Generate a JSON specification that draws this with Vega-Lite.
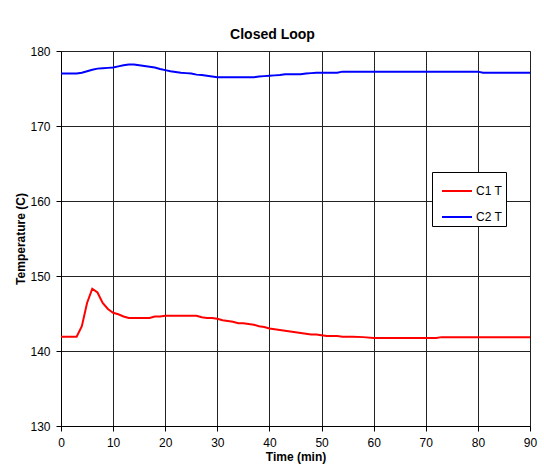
{
  "$schema": "https://vega.github.io/schema/vega-lite/v6.json",
  "width": 469,
  "height": 375,
  "autosize": {"type": "none"},
  "padding": {"left": 61, "top": 51, "right": 14, "bottom": 39},
  "background": "white",
  "config": {
    "font": "Liberation Sans",
    "view": {"stroke": "#808080", "strokeWidth": 1},
    "axis": {"labelFont": "Liberation Sans", "titleFont": "Liberation Sans", "labelColor": "black", "titleColor": "black", "domainColor": "black", "tickColor": "black", "gridColor": "#222", "gridOpacity": 1, "gridWidth": 1, "tickSize": 5, "labelFontSize": 12, "titleFontSize": 12, "titleFontWeight": "bold"}
  },
  "title": {"text": "Closed Loop", "fontSize": 14, "fontWeight": "bold", "font": "Liberation Sans", "color": "black", "anchor": "middle", "dx": -23, "dy": 20, "frame": "group", "baseline": "alphabetic", "offset": 12},
  "datasets": {
    "temps": [
      {"t": 0, "C1 T": 141.9, "C2 T": 177.0},
      {"t": 1, "C1 T": 141.9, "C2 T": 177.0},
      {"t": 2, "C1 T": 141.9, "C2 T": 177.0},
      {"t": 3, "C1 T": 141.9, "C2 T": 177.0},
      {"t": 4, "C1 T": 143.3, "C2 T": 177.1},
      {"t": 5, "C1 T": 146.4, "C2 T": 177.3},
      {"t": 6, "C1 T": 148.3, "C2 T": 177.5},
      {"t": 7, "C1 T": 147.8, "C2 T": 177.65},
      {"t": 8, "C1 T": 146.4, "C2 T": 177.7},
      {"t": 9, "C1 T": 145.6, "C2 T": 177.75},
      {"t": 10, "C1 T": 145.1, "C2 T": 177.8},
      {"t": 11, "C1 T": 144.9, "C2 T": 177.95},
      {"t": 12, "C1 T": 144.6, "C2 T": 178.1},
      {"t": 13, "C1 T": 144.4, "C2 T": 178.2},
      {"t": 14, "C1 T": 144.4, "C2 T": 178.2},
      {"t": 15, "C1 T": 144.4, "C2 T": 178.1},
      {"t": 16, "C1 T": 144.4, "C2 T": 178.0},
      {"t": 17, "C1 T": 144.4, "C2 T": 177.9},
      {"t": 18, "C1 T": 144.6, "C2 T": 177.8},
      {"t": 19, "C1 T": 144.6, "C2 T": 177.6},
      {"t": 20, "C1 T": 144.7, "C2 T": 177.45},
      {"t": 21, "C1 T": 144.7, "C2 T": 177.3},
      {"t": 22, "C1 T": 144.7, "C2 T": 177.2},
      {"t": 23, "C1 T": 144.7, "C2 T": 177.1},
      {"t": 24, "C1 T": 144.7, "C2 T": 177.05},
      {"t": 25, "C1 T": 144.7, "C2 T": 177.0},
      {"t": 26, "C1 T": 144.7, "C2 T": 176.85},
      {"t": 27, "C1 T": 144.5, "C2 T": 176.8},
      {"t": 28, "C1 T": 144.4, "C2 T": 176.7},
      {"t": 29, "C1 T": 144.4, "C2 T": 176.6},
      {"t": 30, "C1 T": 144.3, "C2 T": 176.5},
      {"t": 31, "C1 T": 144.1, "C2 T": 176.5},
      {"t": 32, "C1 T": 144.0, "C2 T": 176.5},
      {"t": 33, "C1 T": 143.9, "C2 T": 176.5},
      {"t": 34, "C1 T": 143.7, "C2 T": 176.5},
      {"t": 35, "C1 T": 143.7, "C2 T": 176.5},
      {"t": 36, "C1 T": 143.6, "C2 T": 176.5},
      {"t": 37, "C1 T": 143.5, "C2 T": 176.5},
      {"t": 38, "C1 T": 143.3, "C2 T": 176.6},
      {"t": 39, "C1 T": 143.2, "C2 T": 176.65},
      {"t": 40, "C1 T": 143.0, "C2 T": 176.7},
      {"t": 41, "C1 T": 142.9, "C2 T": 176.75},
      {"t": 42, "C1 T": 142.8, "C2 T": 176.8},
      {"t": 43, "C1 T": 142.7, "C2 T": 176.9},
      {"t": 44, "C1 T": 142.6, "C2 T": 176.9},
      {"t": 45, "C1 T": 142.5, "C2 T": 176.9},
      {"t": 46, "C1 T": 142.4, "C2 T": 176.9},
      {"t": 47, "C1 T": 142.3, "C2 T": 177.0},
      {"t": 48, "C1 T": 142.2, "C2 T": 177.05},
      {"t": 49, "C1 T": 142.2, "C2 T": 177.1},
      {"t": 50, "C1 T": 142.1, "C2 T": 177.1},
      {"t": 51, "C1 T": 142.0, "C2 T": 177.1},
      {"t": 52, "C1 T": 142.0, "C2 T": 177.1},
      {"t": 53, "C1 T": 142.0, "C2 T": 177.1},
      {"t": 54, "C1 T": 141.9, "C2 T": 177.25},
      {"t": 56, "C1 T": 141.9, "C2 T": 177.25},
      {"t": 58, "C1 T": 141.85, "C2 T": 177.25},
      {"t": 60, "C1 T": 141.75, "C2 T": 177.25},
      {"t": 62, "C1 T": 141.75, "C2 T": 177.25},
      {"t": 64, "C1 T": 141.75, "C2 T": 177.25},
      {"t": 66, "C1 T": 141.75, "C2 T": 177.25},
      {"t": 68, "C1 T": 141.75, "C2 T": 177.25},
      {"t": 70, "C1 T": 141.75, "C2 T": 177.25},
      {"t": 72, "C1 T": 141.75, "C2 T": 177.25},
      {"t": 73, "C1 T": 141.85, "C2 T": 177.25},
      {"t": 76, "C1 T": 141.85, "C2 T": 177.25},
      {"t": 80, "C1 T": 141.85, "C2 T": 177.25},
      {"t": 81, "C1 T": 141.85, "C2 T": 177.1},
      {"t": 84, "C1 T": 141.85, "C2 T": 177.1},
      {"t": 87, "C1 T": 141.85, "C2 T": 177.1},
      {"t": 90, "C1 T": 141.85, "C2 T": 177.1}
    ]
  },
  "data": {"name": "temps"},
  "transform": [{"fold": ["C1 T", "C2 T"], "as": ["series", "temp"]}],
  "mark": {"type": "line", "strokeWidth": 2, "interpolate": "linear"},
  "encoding": {
    "x": {"field": "t", "type": "quantitative", "scale": {"domain": [0, 90], "nice": false},
      "axis": {"values": [0, 10, 20, 30, 40, 50, 60, 70, 80, 90], "title": "Time (min)", "labelPadding": 6, "titlePadding": 3, "labelFlush": false}},
    "y": {"field": "temp", "type": "quantitative", "scale": {"domain": [130, 180], "nice": false, "zero": false},
      "axis": {"values": [130, 140, 150, 160, 170, 180], "title": "Temperature (C)", "labelPadding": 6, "titlePadding": 2}},
    "color": {"field": "series", "type": "nominal",
      "scale": {"domain": ["C1 T", "C2 T"], "range": ["#FF0000", "#0000FF"]},
      "legend": {"orient": "none", "legendX": 371, "legendY": 121, "title": null, "strokeColor": "black", "fillColor": "white", "padding": 3, "symbolOffset": 6, "symbolType": "stroke", "symbolStrokeWidth": 2, "symbolSize": 900, "labelFontSize": 12, "labelFont": "Liberation Sans", "labelColor": "black", "rowPadding": 4, "labelOffset": 3, "cornerRadius": 0}}
  }
}
